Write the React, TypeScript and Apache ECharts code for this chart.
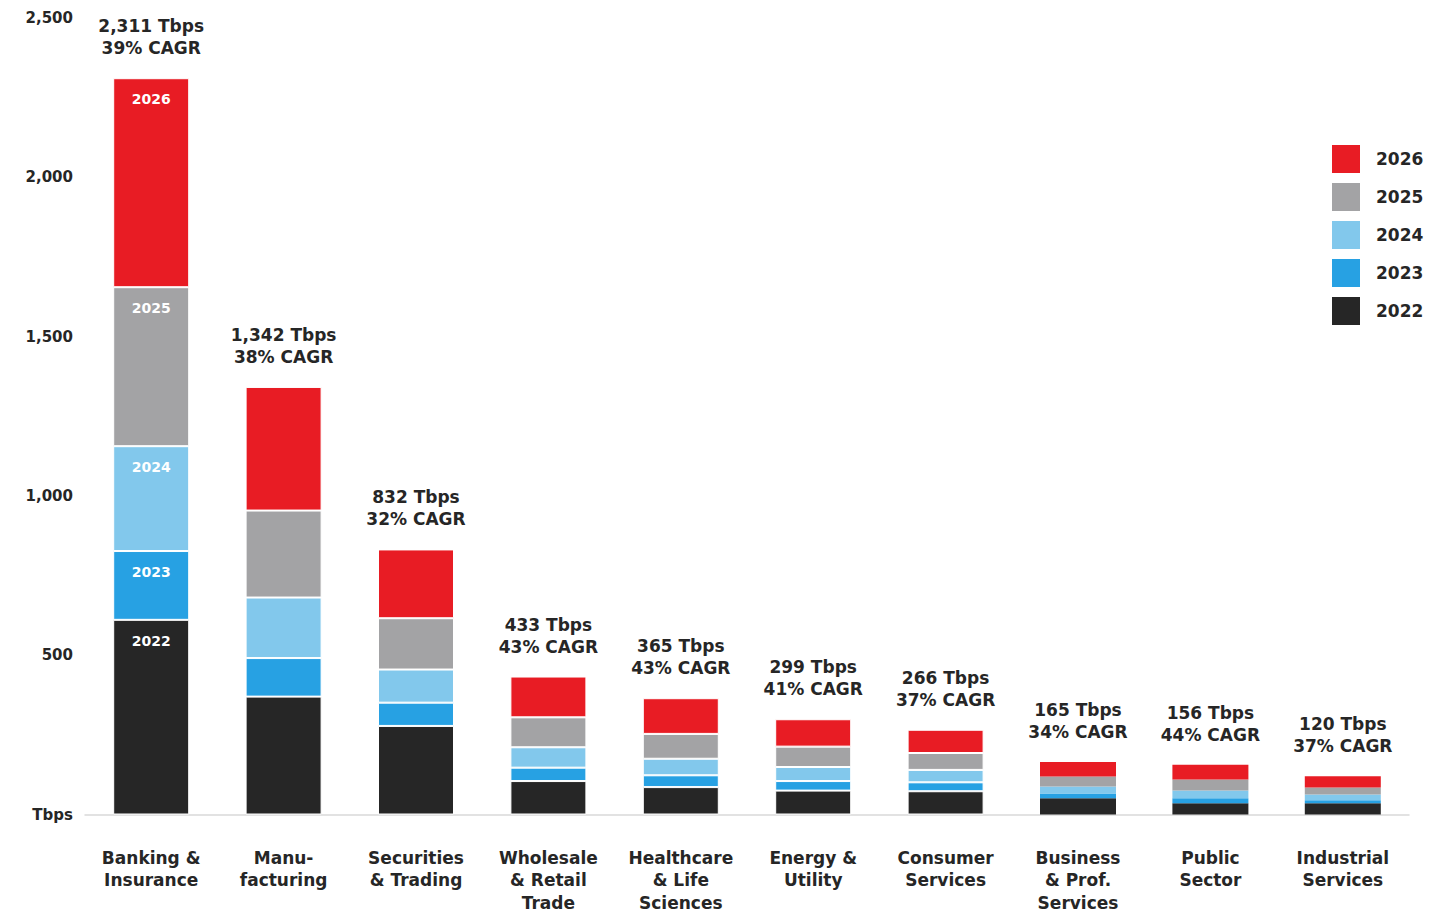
import { useEffect, useRef } from "react";
import * as echarts from "echarts";

const categories = [
  "Banking &\nInsurance",
  "Manu-\nfacturing",
  "Securities\n& Trading",
  "Wholesale\n& Retail\nTrade",
  "Healthcare\n& Life\nSciences",
  "Energy &\nUtility",
  "Consumer\nServices",
  "Business\n& Prof.\nServices",
  "Public\nSector",
  "Industrial\nServices",
];
const years = ["2022", "2023", "2024", "2025", "2026"];
const v2022 = [611, 370, 278, 105, 86, 75, 73, 51, 35, 35];
const v2023 = [216, 121, 73, 42, 37, 30, 28, 15, 16, 10];
const v2024 = [329, 190, 104, 64, 52, 44, 39, 22, 24, 18];
const v2025 = [499, 273, 161, 94, 78, 64, 53, 31, 35, 22];
const v2026 = [656, 388, 216, 128, 112, 86, 73, 46, 46, 35];
const totals = [2311, 1342, 832, 433, 365, 299, 266, 165, 156, 120];
const cagr = [39, 38, 32, 43, 43, 41, 37, 34, 44, 37];
const yMin = 0;
const yMax = 2500;
const yStep = 500;

const colors = ["#262626", "#27A1E3", "#82C8EC", "#A3A3A5", "#E81C24"];
const FONT = "DejaVu Sans";
const TXT = "#262626";

export default function App() {
  const ref = useRef<HTMLDivElement>(null);
  useEffect(() => {
    if (!ref.current) return;
    const chart = echarts.init(ref.current, null, { renderer: "svg" });
    const values = [v2022, v2023, v2024, v2025, v2026];
    const series: any[] = values.map((arr, si) => ({
      name: years[si],
      type: "bar",
      stack: "total",
      barWidth: 76,
      itemStyle: { color: colors[si], borderColor: "#ffffff", borderWidth: 1 },
      data: arr.map((v, i) =>
        i === 0
          ? {
              value: v,
              label: {
                show: true,
                position: "insideTop",
                distance: 14,
                formatter: years[si],
                color: "#ffffff",
                fontFamily: FONT,
                fontWeight: 700,
                fontSize: 14,
              },
            }
          : i >= 7
          ? { value: v, itemStyle: { borderWidth: 0 } }
          : v
      ),
    }));
    series.push({
      name: "total",
      type: "scatter",
      symbolSize: 0,
      silent: true,
      data: totals,
      itemStyle: { opacity: 1, color: TXT },
      label: {
        show: true,
        position: "top",
        distance: 19,
        color: TXT,
        opacity: 1,
        fontFamily: FONT,
        fontWeight: 700,
        fontSize: 17,
        lineHeight: 22,
        align: "center",
        formatter: (p: any) =>
          `${totals[p.dataIndex].toLocaleString("en-US")} Tbps\n${cagr[p.dataIndex]}% CAGR`,
      },
    });
    chart.setOption({
      animation: false,
      textStyle: { fontFamily: FONT },
      grid: { left: 85, right: 38, top: 18, bottom: 98 },
      legend: {
        data: ["2026", "2025", "2024", "2023", "2022"],
        orient: "vertical",
        left: 1332,
        top: 145,
        padding: 0,
        itemWidth: 28,
        itemHeight: 28,
        itemGap: 10,
        icon: "rect",
        itemStyle: { borderWidth: 0 },
        textStyle: {
          color: TXT,
          fontFamily: FONT,
          fontWeight: 700,
          fontSize: 17,
          padding: [0, 0, 0, 11],
        },
      },
      xAxis: {
        type: "category",
        data: categories,
        axisTick: { show: false },
        axisLine: { lineStyle: { color: "#d9d9d9", width: 1.5 } },
        axisLabel: {
          interval: 0,
          margin: 32,
          color: TXT,
          fontFamily: FONT,
          fontWeight: 700,
          fontSize: 17,
          lineHeight: 22.5,
        },
      },
      yAxis: {
        type: "value",
        min: yMin,
        max: yMax,
        interval: yStep,
        splitLine: { show: false },
        axisLine: { show: false },
        axisTick: { show: false },
        axisLabel: {
          margin: 12,
          color: TXT,
          fontFamily: FONT,
          fontWeight: 700,
          fontSize: 15,
          formatter: (v: number) => (v === 0 ? "Tbps" : v.toLocaleString("en-US")),
        },
      },
      series,
    });
    return () => chart.dispose();
  }, []);
  return (
    <div
      ref={ref}
      style={{ position: "fixed", left: 0, top: 0, width: 1447, height: 914, background: "#fff" }}
    />
  );
}
